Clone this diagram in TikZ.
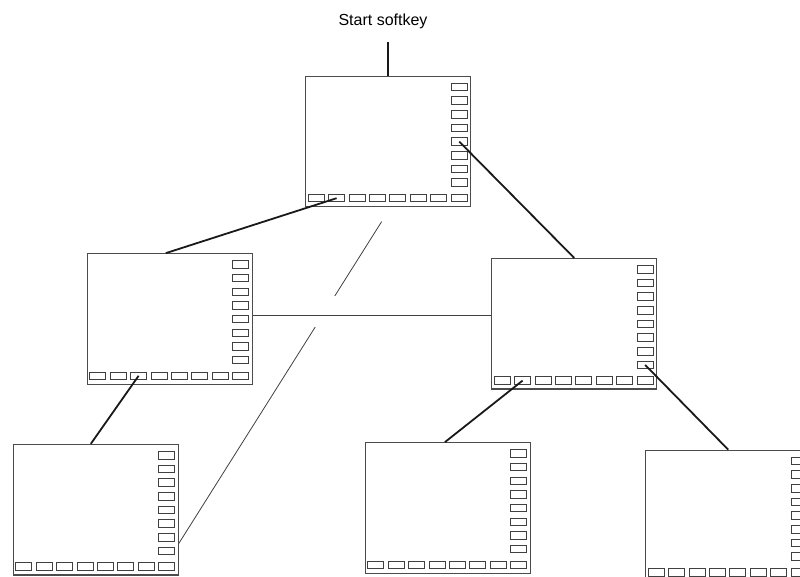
\documentclass[tikz,border=0pt]{standalone}
\usepackage{fontspec}
\setmainfont{Liberation Sans}
\usetikzlibrary{calc}
\tikzset{
  display/.style={
    draw=black!70,
    line width=1.2pt,
    minimum width=165pt,
    minimum height=130.5pt,
    inner sep=0pt,
  },
  softkey/.style={
    draw=black!75,
    line width=0.9pt,
    minimum width=16pt,
    minimum height=7.5pt,
    inner sep=0pt,
  },
  edge/.style={
    line width=1.8pt,
    black!90,
  },
  wire/.style={
    line width=0.8pt,
    black!75,
  },
  screen/.pic={
    \node [display] (-box) {};
    % right column and bottom row of softkeys
    \foreach \k in {1,...,8} {
      \node [softkey] (-r\k) at (71,{-54.5+13.67*(\k-1)}) {};
      \node [softkey] (-b\k) at ({-72+20.4*(\k-1)},56.8) {};
    }
  },
}
\begin{document}
\begin{tikzpicture}[x=1pt,y=-1pt]
    \clip (0,0) rectangle (800,577);
    \node [font=\fontsize{16pt}{19pt}\selectfont] (start) at (383,21) {Start softkey};

    \pic (top) at (388.2,141.4) {screen};
    \pic (lm) at (169.8,319) {screen};
    \pic (rm) at (574.2,323.8) {screen};
    \pic (bl) at (95.8,509.7) {screen};
    \pic (bm) at (447.9,508) {screen};
    \pic (br) at (728.2,515.5) {screen};

    \coordinate (stem) at (388.2,42);
    \coordinate (bl-in) at ([yshift=-33.6pt]bl-box.east);

    % thick links
    \draw[edge] (stem) -- (top-box.north);
    \draw[edge] (top-b2.center) -- ([xshift=-4pt]lm-box.north);
    \draw[edge] (top-r5.center) -- (rm-box.north);
    \draw[edge] (lm-b3.center) -- ([xshift=-5pt]bl-box.north);
    \draw[edge] (rm-b2.center) -- ([xshift=-3pt]bm-box.north);
    \draw[edge] (rm-r8.center) -- (br-box.north);

    % thin links
    \draw[wire] ([yshift=4pt]lm-box.east) coordinate (h) -- (h -| rm-box.west);
    \draw[wire] ($([xshift=2.5pt]top-box.south)!0.0425!(bl-in)$)
      -- ($([xshift=2.5pt]top-box.south)!0.264!(bl-in)$);
    \draw[wire] ($([xshift=2.5pt]top-box.south)!0.3565!(bl-in)$) -- (bl-in);
\end{tikzpicture}
\end{document}
